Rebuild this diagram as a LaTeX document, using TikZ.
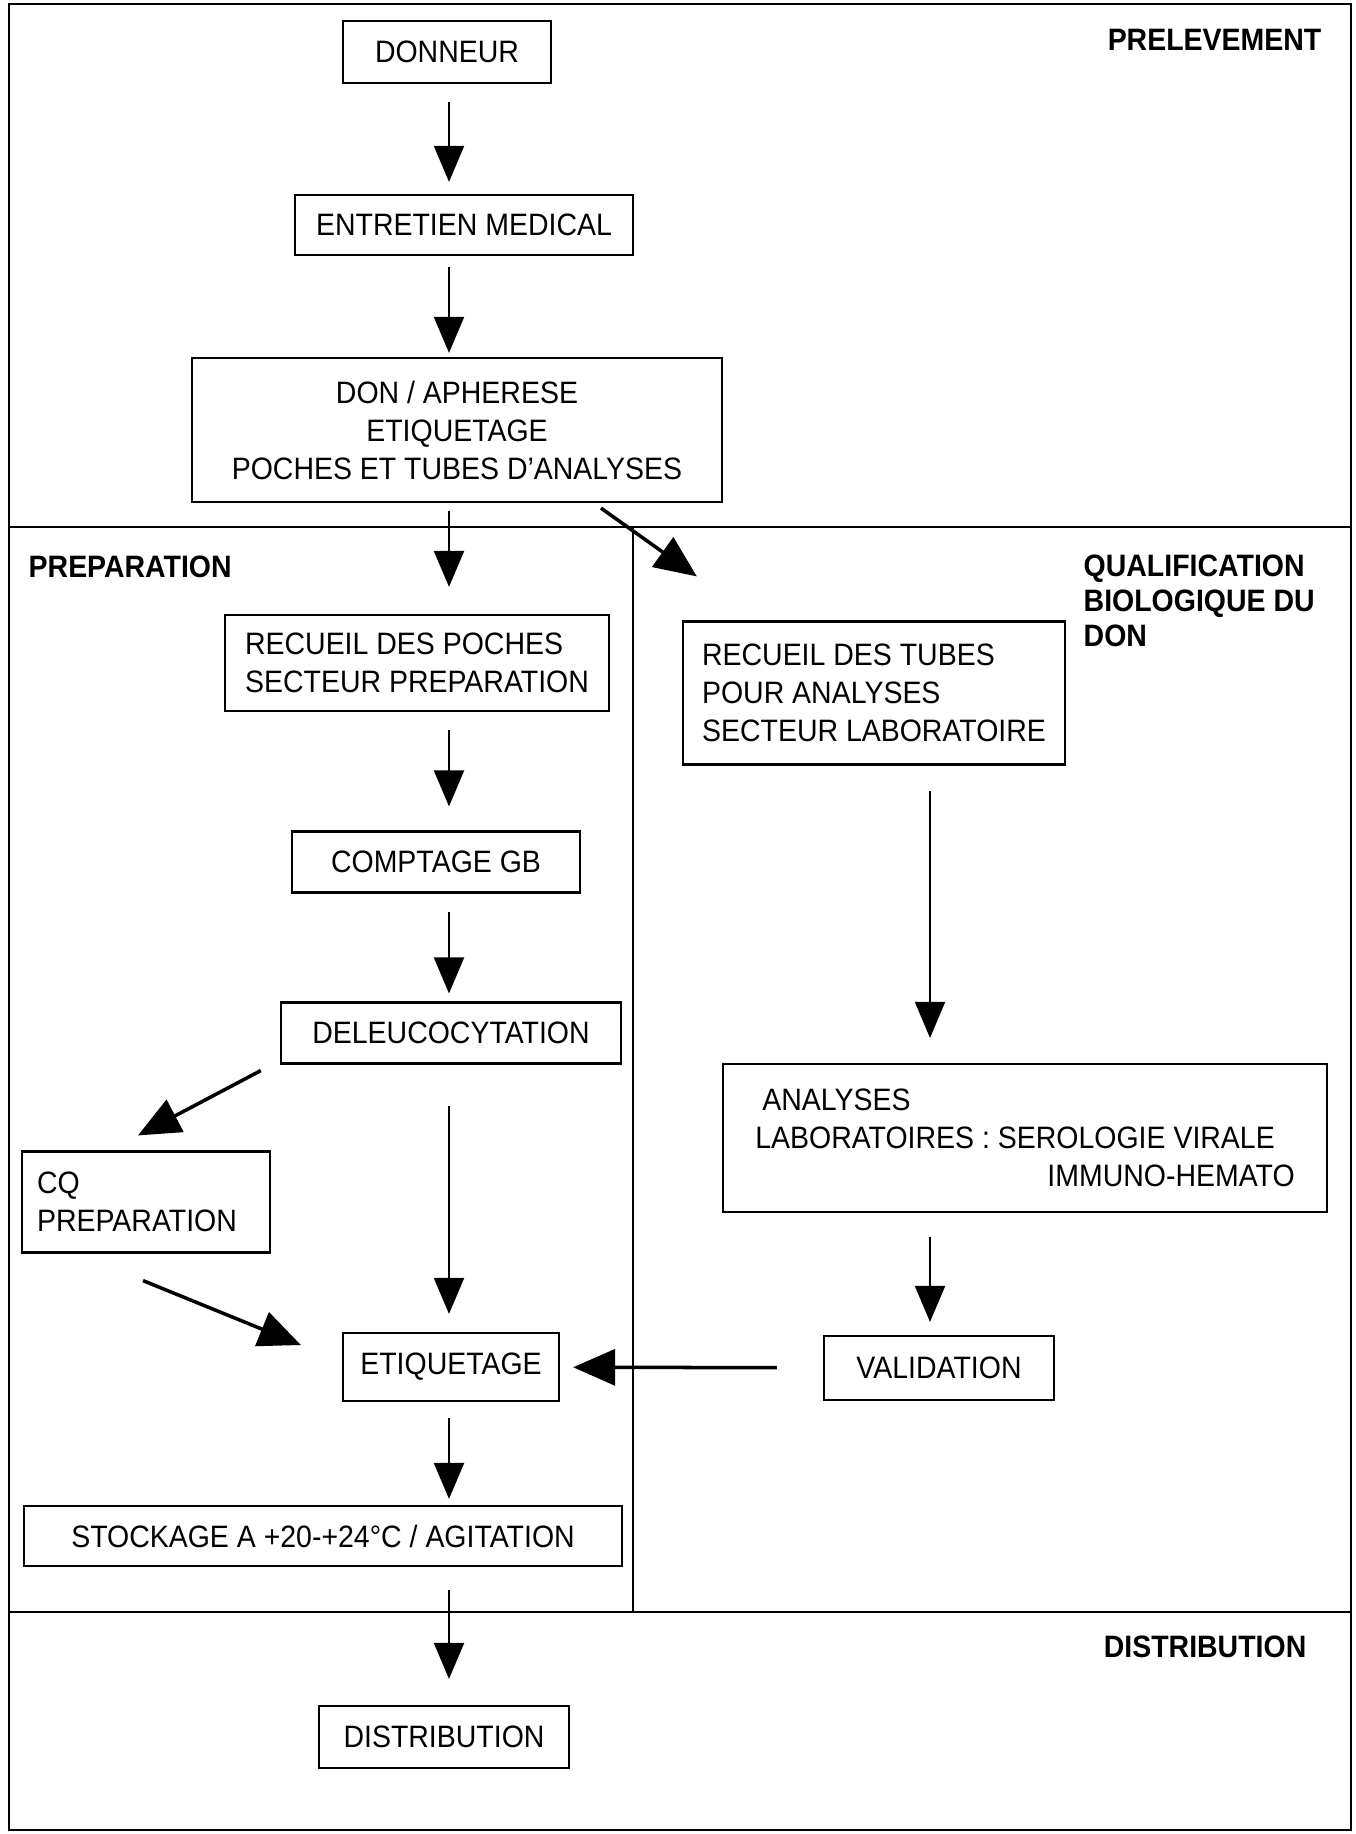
\documentclass[tikz,border=0pt]{standalone}
\usepackage{fontspec}
\setmainfont{Liberation Sans}[FakeStretch=0.92]
\usetikzlibrary{arrows.meta,calc}

\begin{document}
\begin{tikzpicture}[
    x=0.01cm, y=-0.01cm,
    font=\fontsize{8.8}{10.8}\selectfont,
    box/.style={draw, line width=0.6pt, inner sep=2pt},
    zone/.style={font=\fontsize{8.8}{10}\selectfont\bfseries, inner sep=0pt},
    arr/.style={-{Triangle[length=3.6mm, width=3mm]}, line width=0.6pt, shorten <=1.8mm, shorten >=1.2mm},
    arrb/.style={-{Triangle[length=4.2mm, width=3.6mm]}, line width=1pt},
  ]
  \useasboundingbox (0,0) rectangle (1355,1834);
  % cadre et zones
  \draw[line width=0.8pt] (9,4) rectangle (1351,1830);
  \draw[line width=0.8pt] (9,527) -- (1351,527);
  \draw[line width=0.8pt] (9,1612) -- (1351,1612);
  \draw[line width=0.5pt] (633,527) -- (633,1612);
  \node[zone, anchor=east] (t-prelev) at (1322,40) {PRELEVEMENT};
  \node[zone, anchor=west] (t-prep) at (28,567) {PREPARATION};
  \node[zone, anchor=north west, align=left] (t-qual) at (1083,554) {QUALIFICATION\\BIOLOGIQUE DU\\DON};
  \node[zone, anchor=east] (t-distrib) at (1307,1647) {DISTRIBUTION};
  \coordinate (axe-g) at (449,0);
  \coordinate (axe-d) at (930,0);

  % prelevement
  \node[box, minimum width=2.08cm, minimum height=0.62cm] (pre-donneur) at (447,52) {DONNEUR};
  \node[box, minimum width=3.37cm, minimum height=0.6cm] (pre-entretien) at (464,225) {ENTRETIEN MEDICAL};
  \node[box, minimum width=5.3cm, minimum height=1.44cm, align=center] (pre-don) at (457,430)
    {DON / APHERESE\\ETIQUETAGE\\POCHES ET TUBES D'ANALYSES};
  \draw[arr] (axe-g |- pre-donneur.south) -- (axe-g |- pre-entretien.north);
  \draw[arr, shorten <=1.1mm, shorten >=0.4mm] (axe-g |- pre-entretien.south) -- (axe-g |- pre-don.north);

  % preparation
  \node[box, minimum width=3.84cm, minimum height=0.96cm, align=left] (prep-recueil) at (417,663)
    {RECUEIL DES POCHES\\SECTEUR PREPARATION};
  \node[box, minimum width=2.88cm, minimum height=0.61cm] (prep-comptage) at (436,862) {COMPTAGE GB};
  \node[box, minimum width=3.4cm, minimum height=0.61cm] (prep-deleuco) at (451,1033) {DELEUCOCYTATION};
  \node[box, minimum width=2.48cm, minimum height=1.01cm, align=left] (prep-cq) at (146,1202)
    {CQ\\PREPARATION\hspace*{0.18cm}};
  \node[box, minimum width=2.16cm, minimum height=0.68cm] (prep-etiq) at (451,1367) {ETIQUETAGE};
  \node[box, minimum width=5.98cm, minimum height=0.6cm] (prep-stock) at (323,1536) {STOCKAGE A +20-+24°C / AGITATION};
  \draw[arr, shorten <=0.8mm, shorten >=2.7mm] (axe-g |- pre-don.south) -- (axe-g |- prep-recueil.north);
  \draw[arr, shorten >=2.4mm] (axe-g |- prep-recueil.south) -- (axe-g |- prep-comptage.north);
  \draw[arr, shorten >=0.8mm] (axe-g |- prep-comptage.south) -- (axe-g |- prep-deleuco.north);
  \draw[arr, shorten <=4.1mm, shorten >=1.8mm] (axe-g |- prep-deleuco.south) -- (axe-g |- prep-etiq.north);
  \draw[arr, shorten <=1.6mm, shorten >=0.6mm] (axe-g |- prep-etiq.south) -- (axe-g |- prep-stock.north);
  \draw[arrb] ($(prep-deleuco.south west)+(-19,6)$) -- ($(prep-cq.north)+(-8,-15)$);
  \draw[arrb] ($(prep-cq.south)+(-3,27)$) -- ($(prep-etiq.west)+(-41,-22)$);

  % qualification biologique
  \node[box, minimum width=3.82cm, minimum height=1.43cm, align=left] (qual-recueil) at (874,693)
    {RECUEIL DES TUBES\\POUR ANALYSES\\SECTEUR LABORATOIRE};
  \node[box, minimum width=6.04cm, minimum height=1.48cm, align=left] (qual-analyses) at (1025,1138)
    {\hspace*{0.07cm}ANALYSES\\LABORATOIRES : SEROLOGIE VIRALE\hspace*{0.34cm}\\\hspace*{2.92cm}IMMUNO-HEMATO};
  \node[box, minimum width=2.3cm, minimum height=0.64cm] (qual-valid) at (939,1368) {VALIDATION};
  \draw[arrb] ($(pre-don.south)+(144,5)$) -- ($(qual-recueil.north west)+(15,-44)$);
  \draw[arr, shorten <=2.5mm, shorten >=2.5mm] (axe-d |- qual-recueil.south) -- (axe-d |- qual-analyses.north);
  \draw[arr, shorten <=2.4mm, shorten >=1.3mm] (axe-d |- qual-analyses.south) -- (axe-d |- qual-valid.north);
  \draw[arrb, shorten <=4.6mm, shorten >=1.3mm] (qual-valid) -- (prep-etiq);

  % distribution
  \node[box, minimum width=2.49cm, minimum height=0.62cm] (dist-distrib) at (444,1737) {DISTRIBUTION};
  \draw[arr, shorten <=2.3mm, shorten >=2.6mm] (axe-g |- prep-stock.south) -- (axe-g |- dist-distrib.north);
\end{tikzpicture}
\end{document}
